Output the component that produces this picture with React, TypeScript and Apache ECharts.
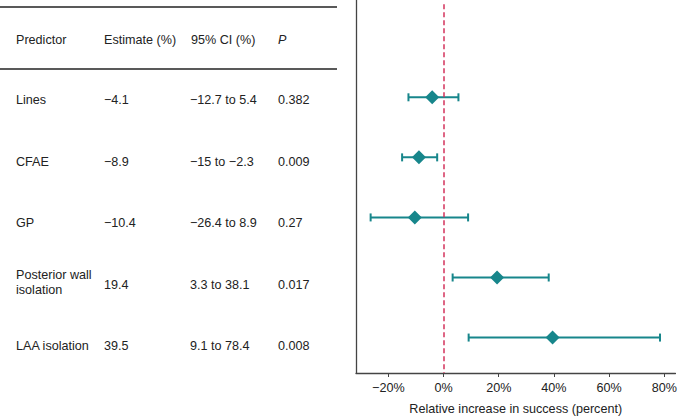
import React, { useEffect, useRef } from "react";
import * as echarts from "echarts";

const predictors = ["Lines", "CFAE", "GP", "Posterior wall\nisolation", "LAA isolation"];
const estimates = [-4.1, -8.9, -10.4, 19.4, 39.5];
const ciLow = [-12.7, -15, -26.4, 3.3, 9.1];
const ciHigh = [5.4, -2.3, 8.9, 38.1, 78.4];
const pValues = ["0.382", "0.009", "0.27", "0.017", "0.008"];
const xTicks = [-20, 0, 20, 40, 60, 80];
const headers = ["Predictor", "Estimate (%)", "95% CI (%)", "P"];

const FONT = '"Liberation Sans", Arial, Helvetica, sans-serif';
const TEAL = "#17868b";
const RED = "#d3335c";
const TXT = "#222";

const fmt = (v: number) => (v < 0 ? "\u2212" + Math.abs(v) : String(v));

export default function App() {
  const ref = useRef<HTMLDivElement>(null);
  useEffect(() => {
    if (!ref.current) return;
    const chart = echarts.init(ref.current, null, { renderer: "svg" });

    const colX = [16, 104, 191, 278];
    const rowY = (i: number) => 100 + i * 61.5;
    const texts: any[] = [];
    headers.forEach((h, j) => {
      texts.push({
        type: "text",
        x: colX[j],
        y: 40,
        style: {
          text: h,
          fill: TXT,
          fontSize: 12.6,
          fontFamily: FONT,
          fontStyle: j === 3 ? "italic" : "normal",
          verticalAlign: "middle",
        },
      });
    });
    predictors.forEach((p, i) => {
      const y = rowY(i);
      const cells = [
        p,
        fmt(estimates[i]),
        `${fmt(ciLow[i])} to ${fmt(ciHigh[i])}`,
        pValues[i],
      ];
      cells.forEach((c, j) => {
        texts.push({
          type: "text",
          x: colX[j] - (j === 2 ? 1 : 0),
          y: j === 0 && c.includes("\n") ? y - 2.5 : y,
          style: {
            text: c,
            fill: TXT,
            fontSize: 12.6,
            fontFamily: FONT,
            verticalAlign: "middle",
            lineHeight: 15,
          },
        });
      });
    });

    const option: any = {
      animation: false,
      textStyle: { fontFamily: FONT },
      grid: { left: 356, right: 4, top: 0, bottom: 44 },
      xAxis: {
        type: "value",
        min: -31.7,
        max: 84,
        name: "Relative increase in success (percent)",
        nameLocation: "middle",
        nameGap: 29,
        nameTextStyle: { fontSize: 12.6, color: TXT, fontFamily: FONT },
        axisLine: { show: true, onZero: false, lineStyle: { color: "#444", width: 1.3 } },
        axisTick: { show: true, length: 4, customValues: xTicks, lineStyle: { color: "#444" } },
        axisLabel: {
          customValues: xTicks,
          formatter: (v: number) => fmt(v) + "%",
          fontSize: 12.6,
          color: TXT,
          margin: 8,
          fontFamily: FONT,
        },
        splitLine: { show: false },
      },
      yAxis: {
        type: "value",
        inverse: true,
        min: -1.62,
        max: 4.59,
        axisLine: { show: true, onZero: false, lineStyle: { color: "#444", width: 1.3 } },
        axisTick: { show: false },
        axisLabel: { show: false },
        splitLine: { show: false },
      },
      graphic: [
        {
          type: "line",
          shape: { x1: 0, y1: 7, x2: 337, y2: 7 },
          style: { stroke: "#222", lineWidth: 1.3 },
        },
        {
          type: "line",
          shape: { x1: 0, y1: 69, x2: 337, y2: 69 },
          style: { stroke: "#222", lineWidth: 1.3 },
        },
        ...texts,
      ],
      series: [
        {
          type: "custom",
          data: predictors.map((_, i) => [i, ciLow[i], ciHigh[i]]),
          encode: { x: [1, 2], y: 0 },
          renderItem: (params: any, api: any) => {
            const i = api.value(0);
            const lo = api.coord([api.value(1), i]);
            const hi = api.coord([api.value(2), i]);
            const h = 4;
            const st = { stroke: TEAL, lineWidth: 2 };
            return {
              type: "group",
              children: [
                { type: "line", shape: { x1: lo[0], y1: lo[1], x2: hi[0], y2: hi[1] }, style: st },
                { type: "line", shape: { x1: lo[0], y1: lo[1] - h, x2: lo[0], y2: lo[1] + h }, style: st },
                { type: "line", shape: { x1: hi[0], y1: hi[1] - h, x2: hi[0], y2: hi[1] + h }, style: st },
              ],
            };
          },
          z: 2,
        },
        {
          type: "scatter",
          data: estimates.map((v, i) => [v, i]),
          symbol: "diamond",
          symbolSize: [14, 14],
          itemStyle: { color: TEAL, opacity: 1 },
          z: 3,
          markLine: {
            silent: true,
            symbol: "none",
            label: { show: false },
            lineStyle: { color: RED, type: [5, 3], width: 1.5 },
            data: [[{ coord: [0, -1.55] }, { coord: [0, 4.59] }]],
          },
        },
      ],
    };
    chart.setOption(option);
    return () => chart.dispose();
  }, []);
  return (
    <div
      ref={ref}
      style={{ position: "fixed", left: 0, top: 0, width: 680, height: 420, background: "#fff" }}
    />
  );
}
